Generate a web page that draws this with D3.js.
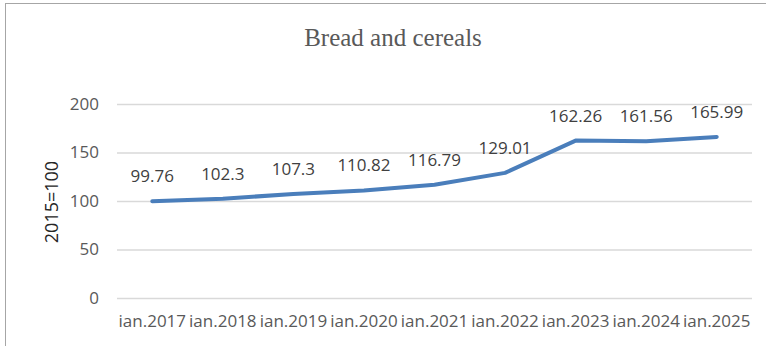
<!DOCTYPE html>
<html>
<head>
<meta charset="utf-8">
<script src="https://cdn.jsdelivr.net/npm/d3@7"></script>
<style>
  html, body { margin: 0; padding: 0; background: #fff; }
  svg { display: block; }
</style>
</head>
<body>
<svg id="chart" width="766" height="346"></svg>
<script>
// Bread and cereals price index, January of each year (2015 = 100)
const categories = ["ian.2017", "ian.2018", "ian.2019", "ian.2020", "ian.2021",
                    "ian.2022", "ian.2023", "ian.2024", "ian.2025"];
const values = [99.76, 102.3, 107.3, 110.82, 116.79, 129.01, 162.26, 161.56, 165.99];
const valueLabels = ["99.76", "102.3", "107.3", "110.82", "116.79",
                     "129.01", "162.26", "161.56", "165.99"];
const yTicks = [0, 50, 100, 150, 200];
const chartTitle = "Bread and cereals";
const yAxisTitle = "2015=100";

const svg = d3.select("#chart");
const W = 766, H = 346;
const plot = { left: 117, right: 752, top: 104, bottom: 298 };
const sans = "'Open Sans', 'Liberation Sans', Arial, sans-serif";

// chart frame (extends past the visible area on the right and bottom)
svg.append("rect")
  .attr("x", 5.5).attr("y", 3.5)
  .attr("width", W + 20).attr("height", H + 20)
  .attr("fill", "#fff")
  .attr("stroke", "#a6a6a6").attr("stroke-width", 1);

const x = d3.scaleBand().domain(categories).range([plot.left, plot.right]).padding(0);
const y = d3.scaleLinear().domain([0, 200]).range([plot.bottom, plot.top]);

// horizontal gridlines + y tick labels
const yAxis = d3.axisLeft(y).tickValues(yTicks).tickSize(-(plot.right - plot.left)).tickPadding(18);
const gy = svg.append("g").attr("transform", `translate(${plot.left},0)`).call(yAxis);
gy.select(".domain").remove();
gy.selectAll(".tick line").attr("stroke", "#d9d9d9").attr("stroke-width", 1.3);
gy.selectAll(".tick text")
  .attr("fill", "#595959")
  .style("font-family", sans)
  .style("font-size", "17px");

// x category labels
const xAxis = d3.axisBottom(x).tickSize(0).tickPadding(17);
const gx = svg.append("g").attr("transform", `translate(0,${plot.bottom})`).call(xAxis);
gx.select(".domain").remove();
gx.selectAll(".tick text")
  .attr("fill", "#595959")
  .style("font-family", sans)
  .style("font-size", "17px");

// series line
const line = d3.line()
  .x((d, i) => x(categories[i]) + x.bandwidth() / 2)
  .y(d => y(d));

svg.append("path")
  .datum(values)
  .attr("d", line)
  .attr("fill", "none")
  .attr("stroke", "#4a7ebb")
  .attr("stroke-width", 4)
  .attr("stroke-linejoin", "round")
  .attr("stroke-linecap", "round");

// value labels above each point
svg.append("g").selectAll("text")
  .data(values)
  .join("text")
  .attr("x", (d, i) => x(categories[i]) + x.bandwidth() / 2)
  .attr("y", d => y(d) - 25)
  .attr("dy", "0.35em")
  .attr("text-anchor", "middle")
  .attr("fill", "#404040")
  .style("font-family", sans)
  .style("font-size", "17px")
  .text((d, i) => valueLabels[i]);

// title
svg.append("text")
  .attr("x", 393).attr("y", 37)
  .attr("dy", "0.35em")
  .attr("text-anchor", "middle")
  .attr("fill", "#595959")
  .style("font-family", "'Liberation Serif', 'Times New Roman', serif")
  .style("font-size", "25px")
  .text(chartTitle);

// y axis title
svg.append("text")
  .attr("transform", `translate(52,202) rotate(-90)`)
  .attr("dy", "0.35em")
  .attr("text-anchor", "middle")
  .attr("fill", "#262626")
  .style("font-family", sans)
  .style("font-size", "18px")
  .text(yAxisTitle);
</script>
</body>
</html>
